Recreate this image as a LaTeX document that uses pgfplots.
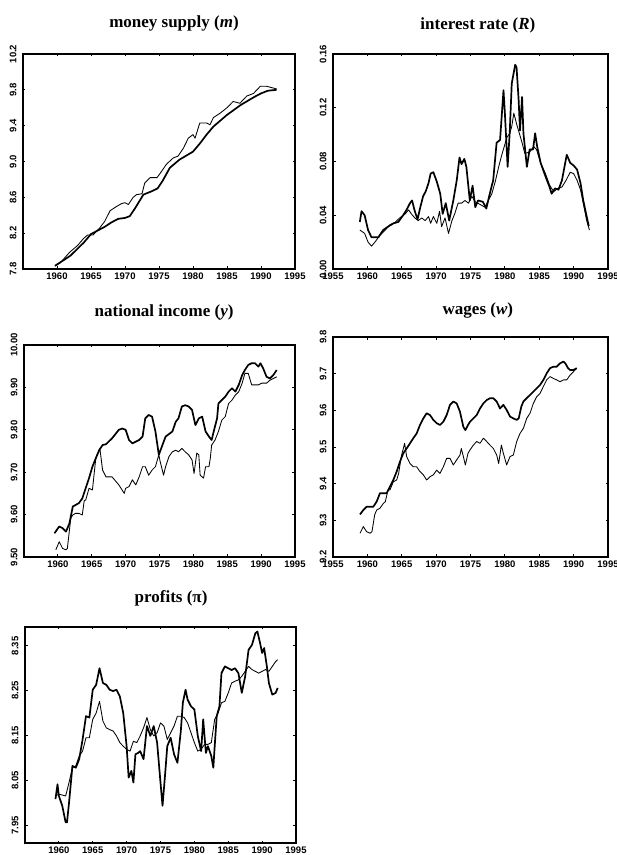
\documentclass[border=0pt]{standalone}
\usepackage{fontspec}
\setmainfont{Liberation Serif}
\setsansfont{Liberation Sans}
\usepackage{pgfplots}
\pgfplotsset{compat=1.18}

\pgfplotsset{
  panel/.style={
    scale only axis, anchor=south west,
    xmin=1955, xmax=1995,
    tick align=inside, major tick length=2.5pt,
    axis line style={line width=1.3pt},
    every tick/.style={line width=0.8pt, black},
    tick label style={font=\sffamily\bfseries\fontsize{9.5}{10}\selectfont},
    /pgf/number format/assume math mode=true,
    xticklabel style={/pgf/number format/1000 sep={}},
    yticklabel style={rotate=90, anchor=south},
    yticklabel shift=3pt,
    scaled y ticks=false,
    title style={font=\bfseries\fontsize{17}{18}\selectfont, anchor=center},
  },
  leftcol/.style={xtick={1960,1965,...,1995}},
  rightcol/.style={xtick={1955,1960,...,1995}},
  thickline/.style={black, line width=1.7pt, line join=round},
  thinline/.style={black, line width=0.85pt, line join=round},
}

\begin{document}
\begin{tikzpicture}
\useasboundingbox (0,0) rectangle (617pt,855pt);

% money supply
\begin{axis}[panel, leftcol, at={(23pt,586pt)}, width=272pt, height=215pt,
  ymin=7.8, ymax=10.2, ytick={7.8,8.2,...,10.2},
  yticklabel style={/pgf/number format/.cd, fixed, fixed zerofill, precision=1},
  title={money supply (\textit{m})},
  title style={at={(axis description cs:0.555,1)}, yshift=25pt}]
\addplot[thickline] coordinates {
(1959.7,7.835) (1962,7.95) (1964,8.10) (1965,8.19) (1966,8.23) (1967,8.27)
(1968,8.32) (1969,8.36) (1970,8.37) (1970.7,8.39) (1971.5,8.48) (1972.7,8.63)
(1974,8.67) (1974.8,8.70) (1975.5,8.78) (1976.6,8.93) (1978,9.02) (1980,9.11)
(1981,9.20) (1982,9.30) (1983,9.39) (1985,9.52) (1987,9.63) (1989,9.72)
(1990,9.76) (1991,9.79) (1992.3,9.80)};
\addplot[thinline] coordinates {
(1959.8,7.84) (1960.5,7.87) (1961.9,7.99) (1963,8.06) (1963.9,8.14) (1964.5,8.18)
(1965.3,8.18) (1966.3,8.26) (1967,8.33) (1967.8,8.45) (1968.8,8.50) (1969.5,8.53)
(1970,8.54) (1970.5,8.52) (1971.2,8.60) (1971.7,8.63) (1972.5,8.64) (1972.9,8.76)
(1973.7,8.82) (1974.7,8.82) (1975.1,8.86) (1976.1,8.97) (1977.1,9.04) (1977.8,9.06)
(1978.6,9.15) (1979.3,9.26) (1980,9.30) (1980.3,9.26) (1981,9.43) (1982,9.43)
(1982.5,9.41) (1983,9.49) (1984,9.54) (1985,9.60) (1985.9,9.67) (1986.9,9.65)
(1987.9,9.73) (1988.9,9.76) (1989.9,9.84) (1990.8,9.84) (1992.3,9.81)};
\end{axis}

% interest rate
\begin{axis}[panel, rightcol, at={(333pt,586pt)}, width=275pt, height=215pt,
  ymin=0, ymax=0.16, ytick={0,0.04,...,0.16},
  yticklabel style={/pgf/number format/.cd, fixed, fixed zerofill, precision=2},
  title={interest rate (\textit{R})},
  title style={at={(axis description cs:0.527,1)}, yshift=23pt}]
\addplot[thickline] coordinates {
(1958.9,0.035) (1959.15,0.043) (1959.6,0.040) (1960.1,0.029) (1960.6,0.0236)
(1961.6,0.0236) (1962.3,0.029) (1963.0,0.0315) (1963.8,0.034) (1964.5,0.035)
(1965.2,0.040) (1965.7,0.044) (1966.2,0.049) (1966.5,0.051) (1966.9,0.043)
(1967.3,0.037) (1967.7,0.046) (1968.1,0.054) (1968.5,0.058) (1968.9,0.064)
(1969.2,0.071) (1969.6,0.072) (1970.1,0.065) (1970.6,0.056) (1970.95,0.041)
(1971.4,0.049) (1971.9,0.036) (1972.5,0.051) (1973.0,0.066) (1973.4,0.083)
(1973.7,0.078) (1974.1,0.082) (1974.4,0.076) (1974.7,0.061) (1974.9,0.051)
(1975.3,0.062) (1975.7,0.046) (1976.1,0.051) (1976.8,0.050) (1977.3,0.045)
(1977.8,0.056) (1978.3,0.066) (1978.8,0.094) (1979.3,0.096) (1979.8,0.133)
(1980.0,0.116) (1980.4,0.076) (1980.7,0.101) (1981.0,0.138) (1981.5,0.152)
(1981.7,0.150) (1982.0,0.126) (1982.2,0.103) (1982.5,0.128) (1982.7,0.101)
(1983.2,0.076) (1983.6,0.089) (1984.1,0.089) (1984.4,0.101) (1984.7,0.091)
(1985.2,0.079) (1985.9,0.069) (1986.5,0.061) (1986.8,0.056) (1987.3,0.060)
(1987.8,0.059) (1988.3,0.066) (1989.0,0.085) (1989.5,0.079) (1990.0,0.077)
(1990.5,0.074) (1991.0,0.064) (1991.4,0.051) (1991.9,0.039) (1992.2,0.032)};
\addplot[thinline] coordinates {
(1958.9,0.029) (1959.6,0.0265) (1960.1,0.020) (1960.6,0.017) (1961.1,0.020)
(1961.8,0.025) (1962.6,0.029) (1963.3,0.033) (1964.0,0.0345) (1964.7,0.038)
(1965.5,0.041) (1966.0,0.044) (1966.4,0.041) (1966.9,0.038) (1967.4,0.036)
(1967.9,0.038) (1968.4,0.036) (1968.9,0.039) (1969.2,0.034) (1969.6,0.039)
(1970.1,0.034) (1970.5,0.043) (1970.8,0.0315) (1971.3,0.038) (1971.8,0.0265)
(1972.3,0.036) (1972.7,0.041) (1973.2,0.049) (1973.7,0.049) (1974.2,0.051)
(1974.7,0.049) (1975.2,0.054) (1975.7,0.050) (1976.4,0.048) (1977.1,0.046)
(1977.6,0.051) (1978.1,0.056) (1978.6,0.065) (1979.1,0.076) (1979.5,0.084)
(1979.9,0.091) (1980.3,0.098) (1980.7,0.101) (1981.0,0.106) (1981.3,0.116)
(1981.7,0.108) (1982.1,0.101) (1982.5,0.094) (1982.9,0.086) (1983.6,0.087)
(1984.2,0.091) (1984.6,0.089) (1985.2,0.079) (1985.9,0.071) (1986.5,0.0625)
(1987.1,0.0575) (1987.7,0.060) (1988.3,0.061) (1988.9,0.066) (1989.5,0.072)
(1990.0,0.071) (1990.5,0.066) (1991.0,0.059) (1991.4,0.049) (1991.9,0.036)
(1992.3,0.029)};
\end{axis}

% national income
\begin{axis}[panel, leftcol, at={(24pt,298pt)}, width=271pt, height=212pt,
  ymin=9.5, ymax=10.0, ytick={9.5,9.6,...,10.0},
  yticklabel style={/pgf/number format/.cd, fixed, fixed zerofill, precision=2},
  title={national income (\textit{y})},
  title style={at={(axis description cs:0.517,1)}, yshift=27pt}]
\addplot[thickline] coordinates {
(1959.5,9.556) (1960.2,9.572) (1960.7,9.568) (1961.2,9.560) (1961.7,9.579)
(1962.2,9.619) (1963.1,9.627) (1963.6,9.638) (1964.1,9.662) (1964.6,9.686)
(1965.1,9.713) (1965.6,9.733) (1966.1,9.752) (1966.6,9.764) (1967.1,9.766)
(1968.0,9.780) (1969.0,9.800) (1969.5,9.803) (1970.0,9.800) (1970.5,9.776)
(1971.0,9.768) (1971.5,9.772) (1972.0,9.776) (1972.5,9.784) (1972.9,9.827)
(1973.4,9.835) (1973.9,9.831) (1974.4,9.796) (1974.9,9.741) (1975.9,9.784)
(1976.9,9.796) (1977.4,9.819) (1977.8,9.827) (1978.3,9.855) (1978.8,9.858)
(1979.3,9.855) (1979.8,9.847) (1980.3,9.811) (1980.8,9.827) (1981.3,9.831)
(1981.8,9.796) (1982.3,9.784) (1982.7,9.776) (1983.0,9.796) (1983.5,9.827)
(1983.7,9.862) (1984.2,9.870) (1984.7,9.878) (1985.2,9.890) (1985.7,9.898)
(1986.2,9.890) (1986.7,9.906) (1987.2,9.929) (1987.6,9.941) (1988.1,9.953)
(1988.6,9.957) (1989.1,9.957) (1989.6,9.949) (1989.9,9.957) (1990.3,9.945)
(1990.8,9.925) (1991.3,9.921) (1991.8,9.929) (1992.3,9.941)};
\addplot[thinline] coordinates {
(1959.7,9.517) (1960.2,9.536) (1960.7,9.520) (1961.2,9.517) (1961.4,9.520)
(1961.9,9.591) (1962.2,9.599) (1962.6,9.603) (1963.1,9.603) (1963.6,9.599)
(1963.9,9.634) (1964.1,9.634) (1964.6,9.662) (1965.1,9.658) (1965.6,9.733)
(1966.2,9.756) (1966.6,9.705) (1967.1,9.689) (1968.0,9.689) (1969.0,9.670)
(1969.8,9.650) (1970.0,9.662) (1970.5,9.666) (1971.0,9.682) (1971.5,9.670)
(1972.0,9.689) (1972.5,9.713) (1972.9,9.713) (1973.4,9.693) (1973.9,9.705)
(1974.4,9.713) (1974.9,9.741) (1975.1,9.725) (1975.6,9.693) (1975.9,9.713)
(1976.4,9.737) (1976.9,9.748) (1977.4,9.752) (1977.8,9.748) (1978.3,9.756)
(1978.8,9.748) (1979.3,9.741) (1979.8,9.729) (1980.1,9.697) (1980.5,9.745)
(1980.8,9.741) (1981.0,9.693) (1981.5,9.686) (1981.8,9.713) (1982.3,9.713)
(1982.5,9.733) (1982.7,9.764) (1983.2,9.776) (1983.7,9.796) (1984.2,9.823)
(1984.7,9.831) (1985.2,9.862) (1985.7,9.870) (1986.2,9.882) (1986.7,9.890)
(1987.2,9.910) (1987.6,9.933) (1988.1,9.933) (1988.6,9.906) (1989.6,9.906)
(1990.1,9.910) (1990.8,9.910) (1991.3,9.917) (1991.8,9.921) (1992.3,9.925)};
\end{axis}

% wages
\begin{axis}[panel, rightcol, at={(333pt,298pt)}, width=275pt, height=220pt,
  ymin=9.2, ymax=9.8, ytick={9.2,9.3,...,9.8},
  yticklabel style={/pgf/number format/.cd, fixed, fixed zerofill, precision=1},
  title={wages (\textit{w})},
  title style={at={(axis description cs:0.527,1)}, yshift=21pt}]
\addplot[thickline] coordinates {
(1958.93,9.316) (1959.41,9.328) (1959.89,9.337) (1960.86,9.337) (1961.35,9.351)
(1961.83,9.374) (1962.80,9.374) (1963.29,9.392) (1963.77,9.410) (1964.26,9.433)
(1964.74,9.460) (1965.23,9.483) (1965.71,9.496) (1966.20,9.510) (1966.68,9.524)
(1967.17,9.537) (1967.65,9.560) (1968.14,9.578) (1968.62,9.592) (1969.11,9.587)
(1969.59,9.574) (1970.08,9.565) (1970.56,9.560) (1971.05,9.569) (1971.53,9.587)
(1972.02,9.615) (1972.50,9.624) (1972.99,9.619) (1973.47,9.596) (1973.96,9.555)
(1974.25,9.546) (1974.64,9.560) (1974.93,9.569) (1975.41,9.578) (1975.90,9.587)
(1976.38,9.605) (1976.87,9.619) (1977.35,9.628) (1977.84,9.633) (1978.32,9.633)
(1978.81,9.624) (1979.29,9.605) (1979.78,9.615) (1980.26,9.601) (1980.75,9.583)
(1981.23,9.578) (1981.72,9.574) (1982.01,9.578) (1982.39,9.610) (1982.69,9.624)
(1983.17,9.633) (1983.66,9.642) (1984.14,9.651) (1984.63,9.660) (1985.11,9.669)
(1985.60,9.683) (1986.08,9.701) (1986.57,9.715) (1987.05,9.719) (1987.54,9.719)
(1988.02,9.728) (1988.51,9.733) (1988.80,9.728) (1989.19,9.715) (1989.48,9.710)
(1989.96,9.710) (1990.45,9.715)};
\addplot[thinline] coordinates {
(1958.93,9.265) (1959.41,9.283) (1959.89,9.269) (1960.38,9.265) (1960.67,9.269)
(1961.06,9.315) (1961.35,9.328) (1961.83,9.333) (1962.32,9.346) (1962.61,9.351)
(1963.00,9.383) (1963.29,9.383) (1963.77,9.405) (1964.26,9.410) (1964.55,9.428)
(1964.93,9.474) (1965.42,9.510) (1965.71,9.474) (1966.20,9.455) (1966.68,9.446)
(1967.17,9.446) (1967.65,9.433) (1968.14,9.424) (1968.62,9.410) (1969.11,9.419)
(1969.59,9.424) (1970.08,9.437) (1970.56,9.428) (1971.05,9.446) (1971.53,9.469)
(1972.02,9.469) (1972.50,9.451) (1972.99,9.465) (1973.47,9.478) (1973.66,9.496)
(1973.96,9.474) (1974.25,9.451) (1974.64,9.483) (1974.93,9.492) (1975.41,9.505)
(1975.90,9.515) (1976.38,9.510) (1976.87,9.524) (1977.35,9.515) (1977.84,9.505)
(1978.32,9.496) (1978.81,9.478) (1979.10,9.455) (1979.49,9.505) (1979.78,9.483)
(1980.26,9.451) (1980.75,9.474) (1981.23,9.478) (1981.72,9.515) (1982.20,9.537)
(1982.69,9.551) (1983.17,9.578) (1983.66,9.592) (1984.14,9.619) (1984.63,9.637)
(1985.11,9.646) (1985.60,9.665) (1986.08,9.683) (1986.57,9.692) (1987.05,9.687)
(1987.54,9.683) (1988.02,9.678) (1988.51,9.683) (1988.99,9.683) (1989.48,9.696)
(1989.96,9.705) (1990.45,9.715)};
\end{axis}

% profits
\begin{axis}[panel, leftcol, at={(25pt,12pt)}, width=271pt, height=216pt,
  ymin=7.91, ymax=8.392, ytick={7.95,8.05,...,8.36},
  yticklabel style={/pgf/number format/.cd, fixed, fixed zerofill, precision=2},
  title={profits (π)},
  title style={at={(axis description cs:0.539,1)}, yshift=23pt}]
\addplot[thickline] coordinates {
(1959.5,8.008) (1959.8,8.041) (1960,8.015) (1960.5,7.993) (1961,7.956)
(1961.2,7.956) (1961.5,8.0) (1962,8.082) (1962.5,8.078) (1963,8.097)
(1963.5,8.141) (1964,8.193) (1964.5,8.190) (1965,8.252) (1965.5,8.263)
(1966,8.30) (1966.5,8.267) (1967,8.263) (1967.5,8.252) (1968,8.249)
(1968.5,8.252) (1969,8.237) (1969.5,8.20) (1970,8.126) (1970.3,8.056)
(1970.7,8.071) (1971,8.045) (1971.3,8.108) (1971.7,8.111) (1972,8.115)
(1972.5,8.097) (1973,8.171) (1973.5,8.149) (1974,8.171) (1974.5,8.134)
(1975,8.045) (1975.3,7.993) (1975.7,8.067) (1976,8.126) (1976.5,8.145)
(1977,8.108) (1977.5,8.089) (1978,8.16) (1978.3,8.223) (1978.7,8.252)
(1979,8.23) (1979.5,8.215) (1980,8.208) (1980.5,8.149) (1981,8.115)
(1981.3,8.186) (1981.7,8.111) (1982,8.126) (1982.5,8.104) (1982.8,8.078)
(1983,8.126) (1983.3,8.193) (1983.7,8.215) (1984,8.289) (1984.5,8.304)
(1985,8.30) (1985.5,8.296) (1986,8.30) (1986.5,8.289) (1987,8.245)
(1987.5,8.282) (1988,8.341) (1988.5,8.352) (1989,8.378) (1989.3,8.382)
(1989.7,8.356) (1990,8.334) (1990.3,8.345) (1990.7,8.304) (1991,8.267)
(1991.5,8.241) (1992,8.245) (1992.3,8.256)};
\addplot[thinline] coordinates {
(1959.5,8.015) (1960,8.019) (1961,8.015) (1961.5,8.045) (1962,8.078)
(1962.5,8.082) (1963,8.104) (1963.5,8.115) (1964,8.145) (1964.5,8.145)
(1965,8.186) (1965.5,8.20) (1966,8.226) (1966.5,8.182) (1967,8.167)
(1967.5,8.163) (1968,8.16) (1968.5,8.149) (1969,8.134) (1969.5,8.126)
(1970,8.119) (1970.5,8.115) (1971,8.137) (1971.5,8.134) (1972,8.149)
(1972.5,8.167) (1973,8.19) (1973.5,8.163) (1974,8.149) (1974.5,8.156)
(1975,8.178) (1975.5,8.171) (1976,8.141) (1976.5,8.156) (1977,8.171)
(1977.5,8.193) (1978,8.193) (1978.5,8.19) (1979,8.178) (1979.5,8.156)
(1980,8.134) (1980.5,8.115) (1981,8.119) (1981.5,8.13) (1982,8.13)
(1982.5,8.134) (1983,8.186) (1983.5,8.20) (1984,8.223) (1984.5,8.226)
(1985,8.245) (1985.5,8.267) (1986,8.271) (1986.5,8.274) (1987,8.282)
(1987.5,8.293) (1988,8.304) (1988.5,8.297) (1989,8.293) (1989.5,8.289)
(1990,8.293) (1990.5,8.297) (1991,8.293) (1991.5,8.304) (1992,8.315)
(1992.3,8.319)};
\end{axis}
\end{tikzpicture}
\end{document}
